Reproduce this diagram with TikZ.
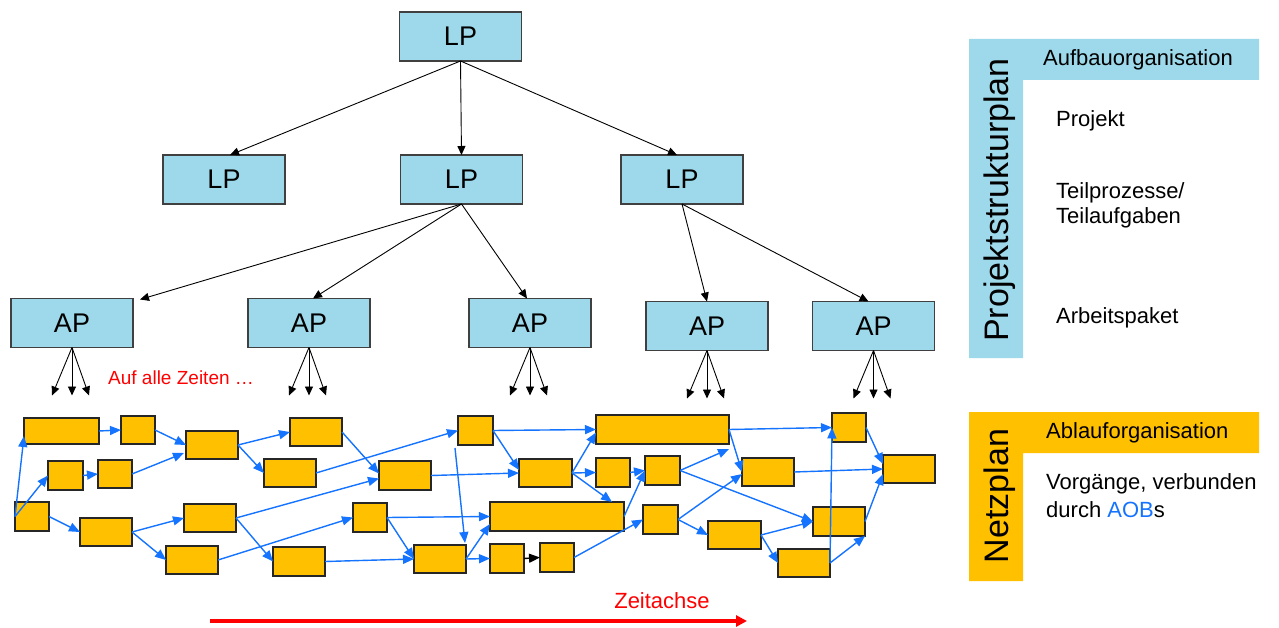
\documentclass[tikz,border=0pt]{standalone}
\usepackage{fontspec}
\setmainfont{Liberation Sans}
\usetikzlibrary{arrows.meta,calc}
\definecolor{lblue}{RGB}{157,217,234}
\definecolor{ygold}{RGB}{255,192,0}
\definecolor{aob}{RGB}{20,115,255}
\newcommand{\ybx}[5]{%
  \pgfmathsetmacro{\ybcx}{(#2+#4)/2}%
  \pgfmathsetmacro{\ybcy}{(#3+#5)/2}%
  \pgfmathsetmacro{\ybw}{#4-#2}%
  \pgfmathsetmacro{\ybh}{#5-#3}%
  \node[ybox,minimum width=\ybw pt,minimum height=\ybh pt] (#1) at (\ybcx,\ybcy) {};}
\begin{document}
\begin{tikzpicture}[x=1pt,y=-1pt,
  lpbox/.style={draw=black!75,fill=lblue,line width=1.2pt,inner sep=0pt,outer sep=0pt,
    minimum width=122pt,minimum height=49pt,font=\fontsize{27pt}{32pt}\selectfont},
  ybox/.style={draw=black!85,fill=ygold,line width=1.3pt,inner sep=0pt,outer sep=0pt},
  tarr/.style={-{Triangle[length=9pt,width=8pt]},line width=0.9pt,black},
  barr/.style={-{Triangle[length=11pt,width=9pt]},line width=1.4pt,aob},
  karr/.style={-{Triangle[length=11pt,width=9pt]},line width=1.4pt,black},
  lbl/.style={inner sep=0pt,anchor=west,font=\fontsize{22pt}{25pt}\selectfont,align=left},
  side/.style={inner sep=0pt,rotate=90,font=\fontsize{34pt}{40pt}\selectfont}]
\useasboundingbox (0,0) rectangle (1279,628);

% ---------- right panels ----------
\fill[lblue] (969,39) -- (1259,39) -- (1259,80) -- (1023,80) -- (1023,358) -- (969,358) -- cycle;
\fill[ygold] (969,412) -- (1259,412) -- (1259,453) -- (1023,453) -- (1023,581) -- (969,581) -- cycle;
\node[side] (psp) at (1000,200) {Projektstrukturplan};
\node[side] (nzp) at (1000,496) {Netzplan};
\node[lbl] (aufbau) at (1043,60) {Aufbauorganisation};
\node[lbl] (proj) at (1056,121) {Projekt};
\node[lbl] (teil) at (1056,205) {Teilprozesse/\\Teilaufgaben};
\node[lbl] (arb) at (1056,318) {Arbeitspaket};
\node[lbl] (ablauf) at (1046,433) {Ablauforganisation};
\node[lbl,font=\fontsize{22pt}{28pt}\selectfont] (vorg) at (1046,496) {Vorgänge, verbunden\\durch \textcolor{aob}{AOB}s};

% ---------- tree ----------
\node[lpbox] (lp0) at (460.5,36.5) {LP};
\node[lpbox] (lp1) at (224,179.5) {LP};
\node[lpbox] (lp2) at (461.5,179.5) {LP};
\node[lpbox] (lp3) at (682,179.5) {LP};
\node[lpbox] (ap1) at (72,323) {AP};
\node[lpbox] (ap2) at (309,323) {AP};
\node[lpbox] (ap3) at (530,323) {AP};
\node[lpbox] (ap4) at (707,326) {AP};
\node[lpbox] (ap5) at (873.5,326) {AP};

\draw[tarr] (lp0.south) -- ($(lp1.north)+(6,0)$);
\draw[tarr] (lp0.south) -- (lp2.north);
\draw[tarr] (lp0.south) -- ($(lp3.north)+(-5,0)$);
\draw[tarr] (lp2.south) -- ($(ap1.north east)+(7,1)$);
\draw[tarr] (lp2.south) -- ($(ap2.north)+(4,0)$);
\draw[tarr] (lp2.south) -- ($(ap3.north)+(-3,0)$);
\draw[tarr] (lp3.south) -- (ap4.north);
\draw[tarr] (lp3.south) -- ($(ap5.north)+(-5,0)$);

\foreach \a in {ap1,ap2,ap3,ap4,ap5}{
  \coordinate (\a-l) at ($(\a.south)+(-20,48)$);
  \coordinate (\a-m) at ($(\a.south)+(0,48)$);
  \coordinate (\a-r) at ($(\a.south)+(17,48)$);
  \draw[tarr] (\a.south) -- (\a-l);
  \draw[tarr] (\a.south) -- (\a-m);
  \draw[tarr] (\a.south) -- (\a-r);
}
\node[inner sep=0pt,anchor=west,text=red,font=\fontsize{19pt}{22pt}\selectfont] (alle) at (108,378) {Auf alle Zeiten …};

% ---------- network ----------
\ybx{B1}{24}{418}{99}{444}
\ybx{B2}{121}{416}{155}{444}
\ybx{B3}{186}{431}{238}{459}
\ybx{B4}{290}{418}{342}{446}
\ybx{B5}{48}{461}{83}{490}
\ybx{B6}{98}{460}{132}{488}
\ybx{B7}{264}{459}{316}{487}
\ybx{B8}{15}{502}{49}{531}
\ybx{B9}{80}{518}{132}{546}
\ybx{B10}{184}{504}{236}{532}
\ybx{B11}{166}{546}{218}{574}
\ybx{B12}{273}{547}{325}{576}
\ybx{B13}{379}{461}{431}{490}
\ybx{B14}{458}{416}{493}{445}
\ybx{B15}{353}{503}{387}{532}
\ybx{B16}{414}{545}{466}{573}
\ybx{B17}{519}{459}{572}{487}
\ybx{B18}{490}{502}{624}{531}
\ybx{B19}{490}{544}{524}{573}
\ybx{B20}{540}{543}{574}{572}
\ybx{B21}{596}{415}{729}{444}
\ybx{B22}{596}{458}{630}{487}
\ybx{B23}{645}{456}{680}{485}
\ybx{B24}{643}{505}{678}{534}
\ybx{B25}{742}{458}{794}{486}
\ybx{B26}{708}{521}{761}{549}
\ybx{B27}{832}{413}{866}{442}
\ybx{B28}{813}{507}{865}{536}
\ybx{B29}{778}{549}{830}{577}
\ybx{B30}{883}{455}{935}{483}

\draw[barr] (B8.west) -- ($(B1.south west)+(0,-8)$);
\draw[barr] (B8.west) -- (B5.west);
\draw[barr] (B8.east) -- (B9.west);
\draw[barr] (B1.east) -- (B2.west);
\draw[barr] (B5.east) -- (B6.west);
\draw[barr] (B2.east) -- (B3.west);
\draw[barr] (B6.east) -- ($(B3.west)+(-2,8)$);
\draw[barr] (B3.east) -- (B4.west);
\draw[barr] (B3.east) -- (B7.west);
\draw[barr] (B9.east) -- (B10.west);
\draw[barr] (B9.east) -- (B11.west);
\draw[barr] (B10.east) -- (B12.west);
\draw[barr] (B10.east) -- ($(B13.west)+(0,3)$);
\draw[barr] (B7.east) -- (B14.west);
\draw[barr] (B11.east) -- (B15.west);
\draw[barr] (B4.east) -- ($(B13.west)+(0,-2)$);
\draw[barr] (B12.east) -- (B16.west);
\draw[barr] (B13.east) -- (B17.west);
\draw[barr] (B14.east) -- (B21.west);
\draw[barr] (B14.east) -- ($(B17.west)+(0,-3)$);
\draw[barr] ($(B14.south west)+(-3,3)$) -- ($(B16.north east)+(-1,-2)$);
\draw[barr] (B15.east) -- (B18.west);
\draw[barr] (B15.east) -- (B16.west);
\draw[barr] (B16.east) -- ($(B18.south west)+(0,-7)$);
\draw[barr] (B16.east) -- (B19.west);
\draw[karr] (B19.east) -- (B20.west);
\draw[barr] (B17.east) -- ($(B21.west)+(0,3)$);
\draw[barr] (B17.east) -- (B22.west);
\draw[barr] (B17.east) -- ($(B18.north east)+(-12,0)$);
\draw[barr] (B18.east) -- (B23.west);
\draw[barr] (B22.east) -- (B23.west);
\draw[barr] (B20.east) -- (B24.west);
\draw[barr] (B21.east) -- (B27.west);
\draw[barr] (B21.east) -- (B25.west);
\draw[barr] (B23.east) -- ($(B21.south east)+(0,5)$);
\draw[barr] (B23.east) -- (B28.west);
\draw[barr] (B24.east) -- ($(B25.west)+(0,2)$);
\draw[barr] (B24.east) -- (B26.west);
\draw[barr] (B25.east) -- (B30.west);
\draw[barr] (B26.east) -- (B28.west);
\draw[barr] (B26.east) -- (B29.west);
\draw[barr] (B29.east) -- (B27.west);
\draw[barr] (B29.east) -- (B28.south east);
\draw[barr] (B27.east) -- ($(B30.west)+(0,-5)$);
\draw[barr] (B28.east) -- ($(B30.west)+(0,5)$);

% ---------- time axis ----------
\node[inner sep=0pt,text=red,font=\fontsize{22pt}{26pt}\selectfont] (zeit) at (662,601) {Zeitachse};
\coordinate (t0) at (210,621);
\coordinate (t1) at (747,621);
\draw[red,line width=3.2pt,-{Triangle[length=11pt,width=11pt]}] (t0) -- (t1);
\end{tikzpicture}
\end{document}
